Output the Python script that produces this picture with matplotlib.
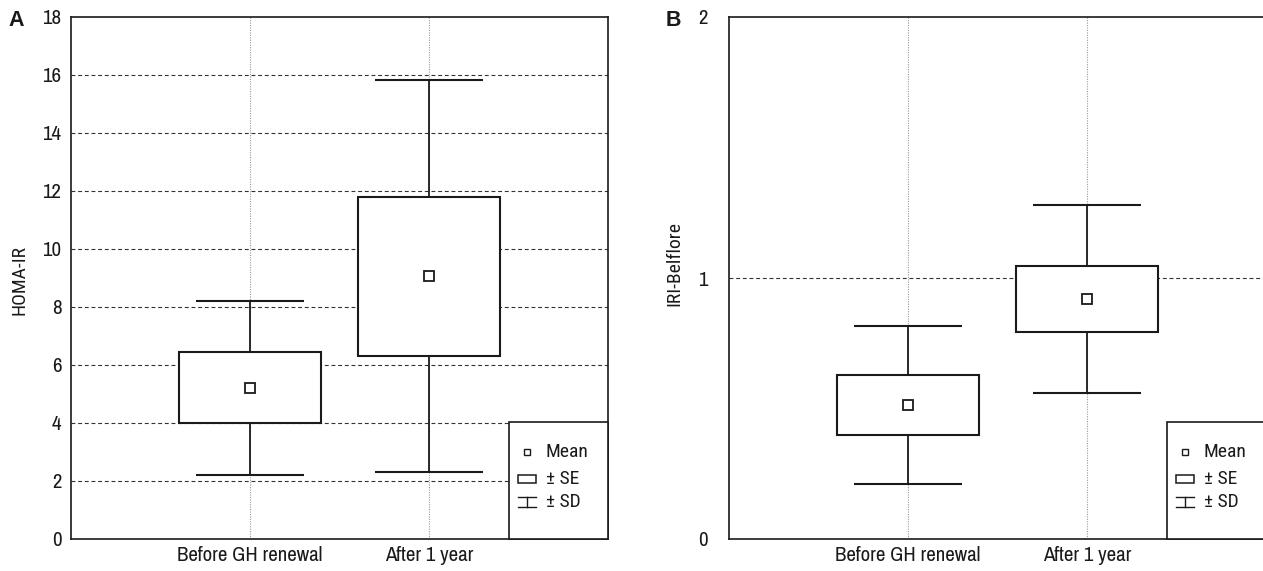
import matplotlib
matplotlib.use("Agg")
import matplotlib.pyplot as plt
from matplotlib.patches import Rectangle
from matplotlib.lines import Line2D

plt.rcParams['font.family'] = ['Archivo Narrow', 'DejaVu Sans']
WIDE = ['Roboto Condensed', 'DejaVu Sans']

# data
groups = ["Before GH renewal", "After 1 year"]

homa_mean = [5.22, 9.07]
homa_se_lo = [4.0, 6.32]
homa_se_hi = [6.45, 11.8]
homa_sd_lo = [2.22, 2.3]
homa_sd_hi = [8.22, 15.82]

iri_mean = [0.515, 0.92]
iri_se_lo = [0.40, 0.795]
iri_se_hi = [0.63, 1.045]
iri_sd_lo = [0.21, 0.56]
iri_sd_hi = [0.815, 1.28]

legend_labels = ["Mean", "\u00b1 SE", "\u00b1 SD"]

INK = "#1a1a1a"


def draw_panel(ax, mean, se_lo, se_hi, sd_lo, sd_hi, ymax, yticks, hgrid, ylabel,
               ypad, label_x, label_y):
    xs = [1, 2]
    ax.set_xlim(0, 3)
    ax.set_ylim(0, ymax)

    # grid
    for g in hgrid:
        ax.axhline(g, color="#333333", lw=0.8, ls=(0, (3.5, 2.5)), zorder=1)
    for x in xs:
        ax.axvline(x, color="#9a9a9a", lw=0.8, ls=(0, (1, 1.2)), zorder=1)

    # whiskers and caps (SD)
    for x, a, b, c, d in zip(xs, sd_lo, se_lo, se_hi, sd_hi):
        ax.vlines(x, a, b, color=INK, lw=1.3, zorder=2)
        ax.vlines(x, c, d, color=INK, lw=1.3, zorder=2)
    ax.hlines(sd_lo, [x - 0.3 for x in xs], [x + 0.3 for x in xs], color=INK, lw=1.5, zorder=2)
    ax.hlines(sd_hi, [x - 0.3 for x in xs], [x + 0.3 for x in xs], color=INK, lw=1.5, zorder=2)

    # SE boxes
    heights = [h - l for l, h in zip(se_lo, se_hi)]
    ax.bar(xs, heights, bottom=se_lo, width=0.79, color="white", edgecolor=INK,
           linewidth=1.5, zorder=3)

    # means
    ax.plot(xs, mean, ls="none", marker="s", ms=6.5, mfc="white", mec=INK, mew=1.3, zorder=4)

    ax.set_xticks(xs)
    ax.set_xticklabels(groups, fontsize=15, color=INK)
    ax.set_yticks(yticks)
    ax.set_yticklabels([str(t) for t in yticks], fontsize=15, color=INK)
    ax.tick_params(axis="both", length=0)
    ax.tick_params(axis="y", pad=ypad)
    ax.tick_params(axis="x", pad=5)

    for s in ax.spines.values():
        s.set_linewidth(1.2)
        s.set_color(INK)

    ax.set_ylabel(ylabel, fontsize=14, color=INK, family=WIDE)
    ax.yaxis.set_label_coords(label_x, label_y)
    ax.yaxis.label.set_va("center")

    # legend box in the lower right corner
    x0, y1 = 0.8156, 0.2241
    ax.add_patch(Rectangle((x0, 0), 1 - x0, y1, transform=ax.transAxes,
                           facecolor="white", edgecolor=INK, lw=1.2, zorder=5, clip_on=False))
    tr = ax.transAxes
    px = 1 / 537.0
    py = 1 / 522.0
    hx = x0 + 18 * px
    ys = [(539 - 452) * py, (539 - 479) * py, (539 - 502) * py]
    hw = 9.3 * px
    ax.plot([hx], [ys[0]], transform=tr, ls="none", marker="s", ms=5, mfc="white",
            mec=INK, mew=1.0, zorder=6, clip_on=False)
    ax.add_patch(Rectangle((hx - hw, ys[1] - 4 * py), 2 * hw, 8 * py, transform=tr,
                           facecolor="white", edgecolor=INK, lw=1.1, zorder=6, clip_on=False))
    ax.add_line(Line2D([hx - hw, hx + hw], [ys[2] + 5 * py] * 2, transform=tr,
                       color=INK, lw=1.0, zorder=6, clip_on=False))
    ax.add_line(Line2D([hx - hw, hx + hw], [ys[2] - 5 * py] * 2, transform=tr,
                       color=INK, lw=1.0, zorder=6, clip_on=False))
    ax.add_line(Line2D([hx, hx], [ys[2] - 5 * py, ys[2] + 5 * py], transform=tr,
                       color=INK, lw=1.0, zorder=6, clip_on=False))
    for t, yy in zip(legend_labels, ys):
        ax.text(x0 + 37 * px, yy, t, transform=tr, fontsize=14, color=INK, ha="left",
                va="center", zorder=7, family=WIDE)


fig = plt.figure(figsize=(12.63, 5.71), dpi=100)
W, H = 1263.0, 571.0
axA = fig.add_axes([71 / W, 1 - 539 / H, 537 / W, 522 / H])
axB = fig.add_axes([729 / W, 1 - 539 / H, 537 / W, 522 / H])

draw_panel(axA, homa_mean, homa_se_lo, homa_se_hi, homa_sd_lo, homa_sd_hi,
           18, list(range(0, 19, 2)), list(range(2, 17, 2)), "HOMA-IR", 7, -0.095, 0.496)
draw_panel(axB, iri_mean, iri_se_lo, iri_se_hi, iri_sd_lo, iri_sd_hi,
           2, [0, 1, 2], [1], "IRI-Belflore", 15.5, -0.1024, 0.527)

fig.text(16 / W, 1 - 20 / H, "A", fontsize=15.5, fontweight="bold", color=INK,
         family=["Liberation Sans", "DejaVu Sans"], ha="center", va="center")
fig.text(673 / W, 1 - 20 / H, "B", fontsize=15.5, fontweight="bold", color=INK,
         family=["Liberation Sans", "DejaVu Sans"], ha="center", va="center")

fig.savefig("out.png", dpi=100)
